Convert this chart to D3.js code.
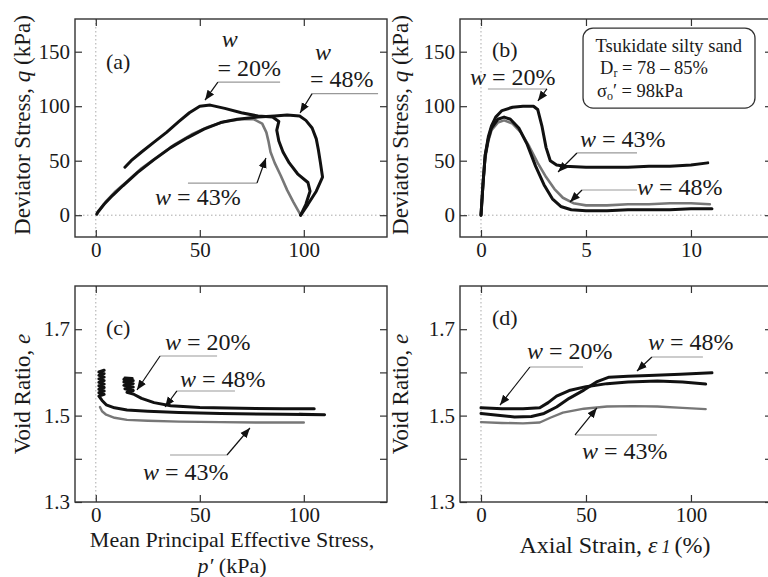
<!DOCTYPE html>
<html>
<head>
<meta charset="utf-8">
<script src="https://cdn.jsdelivr.net/npm/d3@7"></script>
<style>
body { margin: 0; background: #fff; }
text { font-family: "Liberation Serif", "Times New Roman", serif; fill: #1a1a1a; }
</style>
</head>
<body>
<div class="graph"></div>
<script>
// (a) stress paths p', q
var pq20 = [[98.5,0],[101,10],[103,22],[102,30],[97,38],[93,48],[90,58],[88,68],[87,78],[88,86],[85,90],[78,91],[70,94],[62,98],[55,101],[50,100],[45,94],[40,86],[34,76],[28,67],[22,58],[17,50],[14,44]];
var pq43 = [[98.5,0],[95,12],[92,23],[89,36],[86,48],[84,58],[83,68],[82,76],[80,84],[76,88],[70,88],[62,86],[54,81],[46,74],[38,65],[30,54],[22,43],[15,31],[9,21],[5,13],[2,5],[0.5,1]];
var pq48 = [[98.5,0],[102,10],[106,22],[109,35],[108,48],[107,60],[106,70],[104,80],[101,87],[98,91],[92,92],[86,91],[78,90],[68,88],[60,85],[52,79],[44,71],[36,62],[28,51],[20,39],[13,27],[8,18],[4,10],[1,3],[0.5,1]];
// (b) axial strain, q
var sq20 = [[0,0],[0.1,30],[0.2,55],[0.35,72],[0.5,82],[0.7,90],[1.0,96],[1.5,99],[2.0,100],[2.5,100],[2.7,97],[2.9,82],[3.1,62],[3.3,50],[3.6,46],[4,45],[5,44],[6,44],[7,44],[8,45],[9,45],[10,46],[10.8,48]];
var sq43 = [[0,0],[0.1,28],[0.2,52],[0.35,68],[0.5,78],[0.8,85],[1.1,87],[1.5,84],[1.9,76],[2.3,63],[2.7,48],[3.1,35],[3.5,24],[3.9,16],[4.4,11],[5,9],[6,9],[7,10],[8,10],[9,11],[10,11],[10.9,10]];
var sq48 = [[0,0],[0.1,30],[0.2,55],[0.35,70],[0.5,80],[0.8,88],[1.1,90],[1.4,88],[1.8,80],[2.2,65],[2.6,45],[3.0,28],[3.4,15],[3.8,8],[4.3,5],[5,4],[6,4],[7,5],[8,5],[9,5],[10,6],[11,6]];
// (c) p', void ratio
var pe20 = [[105,1.516],[90,1.516],[70,1.517],[50,1.519],[36,1.523],[28,1.53],[22,1.54],[18,1.55],[15,1.554],[18,1.558],[14,1.562],[18,1.566],[13.5,1.57],[18,1.574],[13.5,1.578],[18,1.581],[13.5,1.584],[17.5,1.586],[14,1.587]];
var pe43 = [[100,1.484],[80,1.484],[60,1.485],[40,1.486],[25,1.488],[15,1.49],[9,1.495],[5,1.502],[3,1.51],[2,1.52]];
var pe48 = [[98,1.503],[110,1.502],[90,1.503],[60,1.505],[40,1.507],[25,1.51],[15,1.513],[9,1.518],[5,1.525],[3,1.535],[1.5,1.545],[4,1.549],[1.5,1.553],[4,1.557],[1.5,1.561],[4,1.565],[1.5,1.569],[4,1.573],[1.5,1.577],[4,1.581],[1.5,1.585],[4,1.589],[1.5,1.593],[4,1.597],[1.5,1.601],[4,1.605]];
// (d) axial strain, void ratio
var se20 = [[0,1.518],[10,1.516],[20,1.516],[28,1.518],[32,1.53],[36,1.545],[42,1.558],[50,1.567],[60,1.574],[70,1.578],[84,1.58],[96,1.578],[107,1.573]];
var se43 = [[0,1.485],[10,1.483],[20,1.482],[28,1.484],[33,1.495],[39,1.507],[49,1.516],[60,1.521],[72,1.522],[84,1.521],[96,1.518],[107,1.515]];
var se48 = [[0,1.505],[8,1.501],[16,1.497],[24,1.498],[30,1.505],[36,1.52],[42,1.54],[49,1.559],[55,1.578],[61,1.589],[70,1.591],[80,1.593],[95,1.596],[110,1.599]];

var qTicks = [0, 50, 100, 150];
var pTicks = [0, 50, 100];
var strainTicksB = [0, 5, 10];
var strainTicksD = [0, 50, 100];
var eTicks = [1.3, 1.4, 1.5, 1.6, 1.7];
var eLabels = [1.3, 1.5, 1.7];

var svg = d3.select('.graph').append('svg')
  .attr('width', 768)
  .attr('height', 577);

svg.append('defs').append('marker')
  .attr('id', 'head')
  .attr('viewBox', '0 0 10 10')
  .attr('refX', 10).attr('refY', 5)
  .attr('markerWidth', 10).attr('markerHeight', 10)
  .attr('markerUnits', 'userSpaceOnUse')
  .attr('orient', 'auto')
  .append('path').attr('d', 'M0,1 L10,5 L0,9 Z').attr('fill', '#111');

function panel(box, xDom, yDom, xTicks, yTicks, yShown, yFmt, zeroLine) {
  var x = d3.scaleLinear().domain(xDom).range([box.x0, box.x1]);
  var y = d3.scaleLinear().domain(yDom).range([box.y1, box.y0]);
  var g = svg.append('g');

  // dotted zero lines
  g.append('line')
    .attr('x1', x(0)).attr('x2', x(0)).attr('y1', box.y0).attr('y2', box.y1)
    .attr('stroke', '#aaa').attr('stroke-dasharray', '1.5,2.5');
  if (zeroLine) {
    g.append('line')
      .attr('x1', box.x0).attr('x2', box.x1).attr('y1', y(0)).attr('y2', y(0))
      .attr('stroke', '#aaa').attr('stroke-dasharray', '1.5,2.5');
  }

  var fmt = function(d) {
    return yShown.indexOf(d) < 0 ? '' : yFmt(d);
  };
  g.append('g').attr('class', 'xAxis')
    .attr('transform', 'translate(0,' + box.y1 + ')')
    .call(d3.axisBottom(x).tickValues(xTicks).tickSizeInner(-7).tickSizeOuter(0).tickPadding(5));
  g.append('g')
    .attr('transform', 'translate(0,' + box.y0 + ')')
    .call(d3.axisTop(x).tickValues(xTicks).tickSizeInner(-7).tickSizeOuter(0).tickFormat(''));
  g.append('g').attr('class', 'yAxis')
    .attr('transform', 'translate(' + box.x0 + ',0)')
    .call(d3.axisLeft(y).tickValues(yTicks).tickSizeInner(-7).tickSizeOuter(0).tickPadding(5).tickFormat(fmt));
  g.append('g')
    .attr('transform', 'translate(' + box.x1 + ',0)')
    .call(d3.axisRight(y).tickValues(yTicks).tickSizeInner(-7).tickSizeOuter(0).tickFormat(''));
  g.selectAll('.domain').remove();
  g.selectAll('.tick line').attr('stroke', '#333').attr('stroke-width', 1.2);
  g.selectAll('.tick text').attr('font-size', 21).attr('fill', '#1a1a1a')
    .attr('font-family', '"Liberation Serif", serif');

  g.append('rect')
    .attr('x', box.x0).attr('y', box.y0)
    .attr('width', box.x1 - box.x0).attr('height', box.y1 - box.y0)
    .attr('fill', 'none').attr('stroke', '#333').attr('stroke-width', 1.4);

  return {x: x, y: y, g: g};
}

function curve(p, data, color, width) {
  var line = d3.line()
    .x(function(d) { return p.x(d[0]); })
    .y(function(d) { return p.y(d[1]); });
  p.g.append('path').datum(data)
    .attr('d', line)
    .attr('fill', 'none')
    .attr('stroke', color)
    .attr('stroke-width', width)
    .attr('stroke-linejoin', 'round')
    .attr('stroke-linecap', 'round');
}

function wLabel(p, tx, ty, value) {
  var t = p.g.append('text')
    .attr('x', p.x(tx)).attr('y', p.y(ty))
    .attr('font-size', 24);
  t.append('tspan').attr('font-style', 'italic').text('w');
  t.append('tspan').text(' = ' + value);
}

function leader(p, a, b, c) {
  // underline, then arrow to the curve
  p.g.append('line')
    .attr('x1', p.x(a[0])).attr('y1', p.y(a[1]))
    .attr('x2', p.x(b[0])).attr('y2', p.y(b[1]))
    .attr('stroke', '#999').attr('stroke-width', 1.2);
  p.g.append('line')
    .attr('x1', p.x(a[0])).attr('y1', p.y(a[1]))
    .attr('x2', p.x(c[0])).attr('y2', p.y(c[1]))
    .attr('stroke', '#111').attr('stroke-width', 1.2)
    .attr('marker-end', 'url(#head)');
}

function tag(p, tx, ty, s) {
  p.g.append('text').attr('x', p.x(tx)).attr('y', p.y(ty))
    .attr('font-size', 22).text(s);
}

var fmt0 = d3.format('d');
var fmt1 = d3.format('.1f');

var pa = panel({x0: 75, x1: 387, y0: 19, y1: 237}, [-10, 140], [-20, 180], pTicks, qTicks, qTicks, fmt0, true);
var pb = panel({x0: 460, x1: 772, y0: 19, y1: 237}, [-1, 13.86], [-20, 180], strainTicksB, qTicks, qTicks, fmt0, true);
var pc = panel({x0: 75, x1: 387, y0: 286, y1: 502}, [-10, 140], [1.3, 1.8], pTicks, eTicks, eLabels, fmt1, false);
var pd = panel({x0: 460, x1: 772, y0: 286, y1: 502}, [-10, 138.6], [1.3, 1.8], strainTicksD, eTicks, eLabels, fmt1, false);

curve(pa, pq43, '#777', 2.6);
curve(pa, pq48, '#111', 3);
curve(pa, pq20, '#111', 3);
curve(pb, sq43, '#777', 2.6);
curve(pb, sq48, '#111', 3);
curve(pb, sq20, '#111', 3);
curve(pc, pe43, '#777', 2.4);
curve(pc, pe48, '#111', 3);
curve(pc, pe20, '#111', 3);
curve(pd, se43, '#777', 2.4);
curve(pd, se48, '#111', 3);
curve(pd, se20, '#111', 3);

// (a) labels
tag(pa, 4.9, 134, '(a)');
pa.g.append('text').attr('x', pa.x(60.5)).attr('y', pa.y(154))
  .attr('font-size', 24).attr('font-style', 'italic').text('w');
pa.g.append('text').attr('x', pa.x(58.5)).attr('y', pa.y(128))
  .attr('font-size', 24).text('= 20%');
leader(pa, [58.7, 122], [88.6, 122], [52.5, 105.5]);
pa.g.append('text').attr('x', pa.x(105.4)).attr('y', pa.y(142))
  .attr('font-size', 24).attr('font-style', 'italic').text('w');
pa.g.append('text').attr('x', pa.x(103)).attr('y', pa.y(117.5))
  .attr('font-size', 24).text('= 48%');
leader(pa, [104, 111.5], [135.7, 111.5], [98.2, 93.8]);
wLabel(pa, 28.5, 9.4, '43%');
leader(pa, [77.5, 29.5], [44.3, 29.5], [81.8, 52.5]);

// (b) labels and legend box
tag(pb, 0.52, 145, '(b)');
wLabel(pb, -0.52, 119.4, '20%');
leader(pb, [3.14, 115.8], [0.33, 115.8], [2.71, 104.8]);
wLabel(pb, 4.71, 62.6, '43%');
leader(pb, [4.57, 57.1], [7.43, 57.1], [3.67, 39.6]);
wLabel(pb, 7.43, 18.5, '48%');
leader(pb, [4.81, 23.1], [7.43, 23.1], [4.24, 12.1]);

pb.g.append('rect')
  .attr('x', pb.x(4.86)).attr('y', pb.y(171.7))
  .attr('width', pb.x(13.05) - pb.x(4.86)).attr('height', pb.y(98.3) - pb.y(171.7))
  .attr('rx', 10).attr('fill', '#fff').attr('stroke', '#333').attr('stroke-width', 1.3);
pb.g.append('text').attr('x', pb.x(5.45)).attr('y', pb.y(149.7))
  .attr('font-size', 18.5).text('Tsukidate silty sand');
var dr = pb.g.append('text').attr('x', pb.x(5.67)).attr('y', pb.y(129.5)).attr('font-size', 18.5);
dr.append('tspan').text('D');
dr.append('tspan').attr('font-size', 12).attr('dy', 3).text('r');
dr.append('tspan').attr('dy', -3).text(' = 78 \u2013 85%');
var sg = pb.g.append('text').attr('x', pb.x(5.52)).attr('y', pb.y(108.6)).attr('font-size', 18.5);
sg.append('tspan').text('\u03c3');
sg.append('tspan').attr('font-size', 12).attr('dy', 3).text('o');
sg.append('tspan').attr('dy', -3).text('\u2032 =  98kPa');

// (c) labels
tag(pc, 4.9, 1.6866, '(c)');
wLabel(pc, 33.3, 1.6519, '20%');
leader(pc, [30.9, 1.638], [58.3, 1.638], [19.8, 1.5593]);
wLabel(pc, 40.5, 1.5662, '48%');
leader(pc, [39, 1.557], [66.9, 1.557], [33.3, 1.5199]);
wLabel(pc, 22.7, 1.3509, '43%');
leader(pc, [63.1, 1.4088], [35.7, 1.4088], [74.1, 1.4713]);

// (d) labels
tag(pd, 5.24, 1.7097, '(d)');
wLabel(pd, 21.9, 1.631, '20%');
leader(pd, [23.3, 1.6125], [48.6, 1.6125], [9.05, 1.5245]);
wLabel(pd, 79.5, 1.6519, '48%');
leader(pd, [81.4, 1.6356], [105.7, 1.6356], [74.3, 1.6032]);
wLabel(pd, 48.1, 1.3995, '43%');
leader(pd, [44.8, 1.4551], [83.8, 1.4551], [55.2, 1.5176]);

// axis titles
function yTitle(x, y, parts) {
  var t = svg.append('text')
    .attr('transform', 'translate(' + x + ',' + y + ') rotate(-90)')
    .attr('text-anchor', 'middle')
    .attr('font-size', 23);
  parts.forEach(function(d) {
    t.append('tspan').attr('font-style', d[1] ? 'italic' : 'normal').text(d[0]);
  });
}
yTitle(30, 125, [['Deviator Stress, ', 0], ['q', 1], [' (kPa)', 0]]);
yTitle(408, 125, [['Deviator Stress, ', 0], ['q', 1], [' (kPa)', 0]]);
yTitle(30, 394, [['Void Ratio, ', 0], ['e', 1]]);
yTitle(408, 394, [['Void Ratio, ', 0], ['e', 1]]);

svg.append('text').attr('x', 232).attr('y', 547)
  .attr('text-anchor', 'middle').attr('font-size', 22)
  .text('Mean Principal Effective Stress,');
var pt = svg.append('text').attr('x', 232).attr('y', 573)
  .attr('text-anchor', 'middle').attr('font-size', 22);
pt.append('tspan').attr('font-style', 'italic').text('p\u2032');
pt.append('tspan').text(' (kPa)');

var ax = svg.append('text').attr('x', 615).attr('y', 553)
  .attr('text-anchor', 'middle').attr('font-size', 24);
ax.append('tspan').text('Axial Strain, ');
ax.append('tspan').attr('font-style', 'italic').text('\u03b5');
ax.append('tspan').attr('font-style', 'italic').attr('font-size', 18).attr('dx', 4).text('1');
ax.append('tspan').attr('dx', 4).text('(%)');
</script>
</body>
</html>
